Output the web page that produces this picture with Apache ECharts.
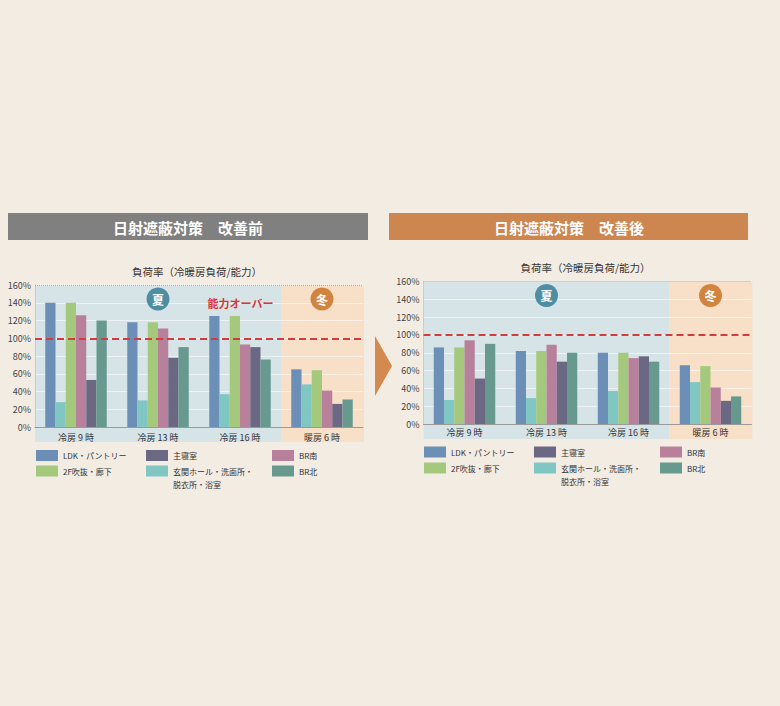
<!DOCTYPE html>
<html><head><meta charset="utf-8">
<script src="https://cdn.jsdelivr.net/npm/echarts@6/dist/echarts.min.js"></script>
<style>html,body{margin:0;padding:0;background:#f3ece2;}#c{width:780px;height:706px;}</style>
</head><body><div id="c"></div>
<script>
const categories = ['冷房 9 時', '冷房 13 時', '冷房 16 時', '暖房 6 時'];
const seriesNames = ['LDK・パントリー', '玄関ホール・洗面所・脱衣所・浴室', '2F吹抜・廊下', 'BR南', '主寝室', 'BR北'];
const seriesColors = ['#6c8fb8', '#80c6c2', '#a5c97c', '#b9809c', '#6b6883', '#67998f'];
// 改善前
const beforeLDK = [140, 118, 125, 65];
const beforeGenkan = [28, 30, 37, 48];
const before2F = [140, 118, 125, 64];
const beforeBRS = [126, 111, 93, 41];
const beforeMaster = [53, 78, 90, 26];
const beforeBRN = [120, 90, 76, 31];
// 改善後
const afterLDK = [86, 82, 80, 66];
const afterGenkan = [27, 29, 37, 47];
const after2F = [86, 82, 80, 65];
const afterBRS = [94, 89, 74, 41];
const afterMaster = [51, 70, 76, 26];
const afterBRN = [90, 80, 70, 31];
const yMax = 160, yInterval = 20, capacityLine = 100;
const titleBefore = '日射遮蔽対策　改善前';
const titleAfter = '日射遮蔽対策　改善後';
const subTitle = '負荷率（冷暖房負荷/能力）';
const overText = '能力オーバー';

const FONT = '"Noto Sans CJK JP", "Noto Sans", sans-serif';
const grids = [
  {left: 35, top: 285, width: 328, height: 142},
  {left: 423.5, top: 281.5, width: 328, height: 142.5}
];
const dataSets = [
  [beforeLDK, beforeGenkan, before2F, beforeBRS, beforeMaster, beforeBRN],
  [afterLDK, afterGenkan, after2F, afterBRS, afterMaster, afterBRN]
];

const graphic = [];
const legends = [];
const series = [];
const summerCount = 3;

grids.forEach((g, gi) => {
  const band = g.width / categories.length;
  const sw = band * summerCount;
  const bh = g.height + 15;
  graphic.push({type: 'rect', z: -10, shape: {x: g.left, y: g.top, width: sw, height: bh}, style: {fill: '#d7e4e7'}});
  graphic.push({type: 'rect', z: -10, shape: {x: g.left + sw, y: g.top, width: g.width - sw + 1, height: bh}, style: {fill: '#f7dfc8'}});
  const by = g.top + 14;
  [[g.left + sw / 2, '#4e8ea3', '夏'], [g.left + sw + (g.width - sw) / 2, '#d2843f', '冬']].forEach(b => {
    graphic.push({type: 'circle', z: 5, shape: {cx: b[0], cy: by, r: 11.5}, style: {fill: b[1]}});
    graphic.push({type: 'text', z: 6, style: {x: b[0], y: by, text: b[2], fill: '#fff', font: 'bold 12px ' + FONT, textAlign: 'center', textVerticalAlign: 'middle'}});
  });
  graphic.push({type: 'text', style: {x: g.left + g.width / 2 - 2, y: g.top - 14, text: subTitle, fill: '#333', font: '10.5px ' + FONT, textAlign: 'center', textVerticalAlign: 'middle'}});

  dataSets[gi].forEach((arr, si) => {
    const s = {
      type: 'bar', name: seriesNames[si], xAxisIndex: gi, yAxisIndex: gi, data: arr,
      itemStyle: {color: seriesColors[si]}, barGap: '0%', barCategoryGap: '25%', z: 3
    };
    if (si === 0) {
      s.markLine = {
        silent: true, symbol: 'none', label: {show: false}, z: 4,
        data: [
          {yAxis: yMax, lineStyle: {type: 'dotted', color: '#a8a8a8', width: 1}},
          {yAxis: capacityLine, lineStyle: {type: [7, 4], color: '#d23c3c', width: 2}}
        ]
      };
    }
    series.push(s);
  });
});

graphic.push({type: 'text', z: 6, style: {x: grids[0].left + 205.5, y: grids[0].top + 18, text: overText, fill: '#d9343a', font: 'bold 11px ' + FONT, textAlign: 'center', textVerticalAlign: 'middle'}});

// title bars
graphic.push({type: 'rect', shape: {x: 8, y: 213, width: 360, height: 27}, style: {fill: '#808080'}});
graphic.push({type: 'text', style: {x: 188, y: 227, text: titleBefore, fill: '#fff', font: 'bold 15px ' + FONT, textAlign: 'center', textVerticalAlign: 'middle'}});
graphic.push({type: 'rect', shape: {x: 389, y: 213, width: 359, height: 27}, style: {fill: '#cd8650'}});
graphic.push({type: 'text', style: {x: 569, y: 227, text: titleAfter, fill: '#fff', font: 'bold 15px ' + FONT, textAlign: 'center', textVerticalAlign: 'middle'}});
// arrow
graphic.push({type: 'polygon', shape: {points: [[375, 336], [392, 366], [375, 396]]}, style: {fill: '#d4894f'}});

// legends
const legendLayout = [
  {cols: [36, 146, 272], rows: [455.5, 471]},
  {cols: [424, 534, 660], rows: [452, 468]}
];
const legendOrder = [[0, 0, 0], [4, 1, 0], [3, 2, 0], [2, 0, 1], [1, 1, 1], [5, 2, 1]];
const LH = 13;
legendLayout.forEach(L => {
  legendOrder.forEach(o => {
    const idx = o[0];
    const yc = L.rows[o[2]];
    const multi = idx === 1;
    legends.push({
      data: [seriesNames[idx]], left: L.cols[o[1]], top: multi ? yc - 1.5 * LH : yc - 5.5,
      padding: 0, itemWidth: 22, itemHeight: 11, itemGap: 0, icon: 'rect', selectedMode: false,
      formatter: multi ? (n => '\n玄関ホール・洗面所・\n脱衣所・浴室') : undefined,
      textStyle: multi ? {fontSize: 8, color: '#333', fontFamily: FONT, lineHeight: LH}
                       : {fontSize: 8, color: '#333', fontFamily: FONT}
    });
  });
});

const chart = echarts.init(document.getElementById('c'), null, {renderer: 'svg'});
chart.setOption({
  animation: false,
  backgroundColor: '#f3ece2',
  textStyle: {fontFamily: FONT},
  grid: grids.map(g => Object.assign({containLabel: false}, g)),
  xAxis: grids.map((g, i) => ({
    type: 'category', gridIndex: i, data: categories,
    axisLine: {lineStyle: {color: '#9a9a9a', width: 1}}, axisTick: {show: false},
    axisLabel: {fontSize: 9, color: '#333', margin: i === 0 ? 6 : 4, fontFamily: FONT},
    splitLine: {show: false}
  })),
  yAxis: grids.map((g, i) => ({
    type: 'value', gridIndex: i, min: 0, max: yMax, interval: yInterval,
    axisLine: {show: true, lineStyle: {color: '#c3ced2'}}, axisTick: {show: false},
    axisLabel: {formatter: '{value}%', fontSize: 9, color: '#444', margin: 4, fontFamily: FONT},
    splitLine: {lineStyle: {color: 'rgba(255,255,255,0.55)', width: 1}}
  })),
  legend: legends,
  series: series,
  graphic: graphic
});
</script></body></html>
